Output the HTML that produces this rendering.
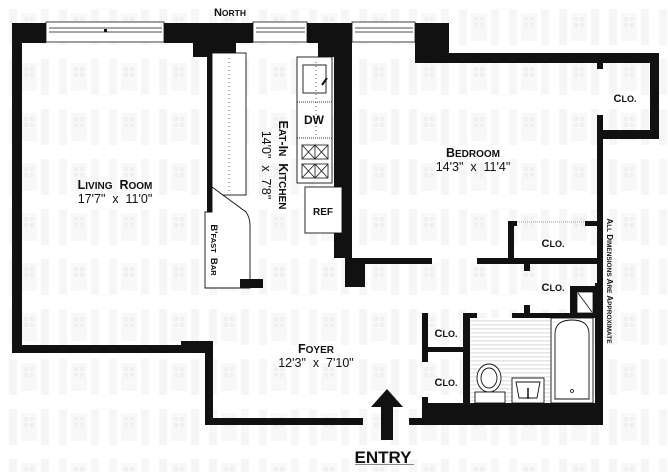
<!DOCTYPE html>
<html><head><meta charset="utf-8"><style>
html,body{margin:0;padding:0;background:#fff;}
svg{display:block;}
text{font-family:"Liberation Sans",Arial,sans-serif;fill:#111;white-space:pre;}
</style></head><body>
<svg width="668" height="472" viewBox="0 0 668 472" xmlns="http://www.w3.org/2000/svg">
<defs>
<pattern id="hatch" width="4" height="4" patternUnits="userSpaceOnUse"><rect width="4" height="4" fill="#fff"/><rect width="4" height="1.5" fill="#e6e6e6"/></pattern>
<pattern id="wm" x="5" y="5" width="50" height="50" patternUnits="userSpaceOnUse">
<rect x="4" y="4" width="8" height="36" fill="#f6f6f6"/>
<rect x="36" y="4" width="8" height="36" fill="#f6f6f6"/>
<rect x="16" y="8" width="16" height="28" fill="#f8f8f8"/>
<rect x="19" y="12" width="4" height="4" fill="#f0f0f0"/><rect x="25" y="12" width="4" height="4" fill="#f0f0f0"/>
<rect x="19" y="18" width="4" height="4" fill="#f0f0f0"/><rect x="25" y="18" width="4" height="4" fill="#f0f0f0"/>
</pattern>
</defs>
<rect width="668" height="472" fill="url(#wm)"/>
<g fill="#111">
<rect x="12" y="23" width="10" height="330"/>
<rect x="12" y="23" width="34" height="20"/>
<rect x="164" y="23" width="89" height="20"/>
<rect x="307" y="23" width="45" height="20"/>
<rect x="193" y="43" width="43" height="10"/>
<rect x="193" y="43" width="14" height="14"/>
<rect x="207" y="53" width="5" height="159"/>
<rect x="318" y="43" width="27" height="14"/>
<rect x="334" y="43" width="11" height="215"/>
<rect x="345" y="43" width="7" height="215"/>
<rect x="345" y="258" width="20" height="29"/>
<rect x="415" y="23" width="34" height="40"/>
<rect x="449" y="53" width="210" height="10"/>
<rect x="650" y="53" width="9" height="86"/>
<rect x="597" y="130" width="62" height="9"/>
<rect x="597" y="63" width="6" height="6"/>
<rect x="597" y="115" width="6" height="310"/>
<rect x="595" y="283" width="7" height="142"/>
<rect x="352" y="258" width="80" height="6"/>
<rect x="477" y="258" width="120" height="6"/>
<rect x="508" y="221" width="6" height="40"/>
<rect x="508" y="221" width="9" height="5"/>
<rect x="585" y="221" width="12" height="5"/>
<rect x="524" y="264" width="6" height="7"/>
<rect x="12" y="345" width="201" height="8"/>
<rect x="181" y="341" width="32" height="12"/>
<rect x="205" y="341" width="8" height="84"/>
<rect x="205" y="418" width="158" height="7"/>
<rect x="409" y="418" width="193" height="7"/>
<rect x="422" y="403" width="180" height="22"/>
<rect x="422" y="313" width="6" height="49"/>
<rect x="422" y="397" width="6" height="13"/>
<rect x="422" y="347" width="41" height="5"/>
<rect x="463" y="313" width="7" height="92"/>
<rect x="463" y="313" width="14" height="5"/>
<rect x="512" y="313" width="83" height="5"/>
<rect x="524" y="305" width="6" height="13"/>
<rect x="570" y="286" width="25" height="27"/>
</g>
<rect x="577" y="292" width="16" height="21" fill="#fff" stroke="#111" stroke-width="0.8"/>
<line x1="578" y1="293" x2="592" y2="312" stroke="#111" stroke-width="0.8"/>
<g fill="#fff" stroke="#111" stroke-width="0.8">
<rect x="46" y="22" width="118" height="20"/>
<rect x="253" y="22" width="54" height="20"/>
<rect x="352" y="22" width="63" height="20"/>
</g>
<g stroke="#111" stroke-width="0.8">
<line x1="49" y1="28" x2="162" y2="28"/><line x1="49" y1="32" x2="162" y2="32"/>
<line x1="256" y1="28" x2="305" y2="28"/><line x1="256" y1="32" x2="305" y2="32"/>
<line x1="355" y1="28" x2="413" y2="28"/><line x1="355" y1="32" x2="413" y2="32"/>
</g>
<rect x="104" y="29" width="3" height="3" fill="#111"/>
<g fill="#fff" stroke="#111" stroke-width="0.9">
<rect x="212" y="53" width="34" height="142"/>
<path d="M212 187 L246 212 Q250 218 250 225 L250 288 L205 288 L205 212 L212 212 Z"/>
<rect x="297" y="57" width="35" height="126"/>
<rect x="305" y="187" width="37" height="46"/>
<rect x="303" y="65" width="23" height="28"/>
</g>
<rect x="240" y="279" width="23" height="9" fill="#111"/>
<line x1="229" y1="58" x2="229" y2="193" stroke="#333" stroke-width="0.8" stroke-dasharray="1,3"/>
<line x1="316" y1="62" x2="316" y2="136" stroke="#333" stroke-width="0.8" stroke-dasharray="1,3"/>
<line x1="297" y1="102" x2="332" y2="102" stroke="#333" stroke-dasharray="1,1"/>
<line x1="297" y1="138" x2="332" y2="138" stroke="#333" stroke-dasharray="1,1"/>
<line x1="322" y1="85" x2="327" y2="78" stroke="#111" stroke-width="2"/>
<g fill="none" stroke="#111" stroke-width="0.8">
<rect x="302" y="145" width="26" height="14"/><line x1="315" y1="145" x2="315" y2="159"/>
<path d="M302 145 L315 159 M315 145 L302 159 M315 145 L328 159 M328 145 L315 159"/>
<rect x="302" y="164" width="26" height="14"/><line x1="315" y1="164" x2="315" y2="178"/>
<path d="M302 164 L315 178 M315 164 L302 178 M315 164 L328 178 M328 164 L315 178"/>
</g>
<line x1="517" y1="222" x2="585" y2="222" stroke="#777" stroke-width="0.8" stroke-dasharray="1,1"/>
<rect x="470" y="318" width="81" height="85" fill="url(#hatch)"/>
<g fill="#fff" stroke="#111" stroke-width="0.9">
<rect x="551" y="318" width="42" height="85"/>
<path d="M555 399 L555 334 Q555 320 572 320 Q589 320 589 334 L589 399 Z"/>
<ellipse cx="489" cy="378" rx="12" ry="14"/>
<ellipse cx="489" cy="378" rx="8" ry="10"/>
<rect x="475" y="392" width="30" height="11"/>
<rect x="512" y="378" width="32" height="25"/>
<path d="M516 382 L540 382 L537 398 L519 398 Z"/>
</g>
<line x1="528" y1="388" x2="528" y2="399" stroke="#111" stroke-width="1.5"/>
<circle cx="572" cy="391" r="1.5" fill="none" stroke="#111" stroke-width="0.8"/>
<path d="M387 389 L403 407 L393 407 L393 440 L381 440 L381 407 L371 407 Z" fill="#111"/>
<g font-weight="bold">
<text x="230" y="16" font-size="11" text-anchor="middle">N<tspan font-size="8.5">ORTH</tspan></text>
<text x="115" y="189" font-size="12.5" text-anchor="middle">L<tspan font-size="10">IVING</tspan>  R<tspan font-size="10">OOM</tspan></text>
<text x="473" y="157" font-size="12.5" text-anchor="middle">B<tspan font-size="10">EDROOM</tspan></text>
<text x="316" y="353" font-size="12.5" text-anchor="middle">F<tspan font-size="10">OYER</tspan></text>
<text x="625" y="102" font-size="11" text-anchor="middle">C<tspan font-size="9">LO.</tspan></text>
<text x="553" y="247" font-size="11" text-anchor="middle">C<tspan font-size="9">LO.</tspan></text>
<text x="553" y="291" font-size="11" text-anchor="middle">C<tspan font-size="9">LO.</tspan></text>
<text x="446" y="337" font-size="11" text-anchor="middle">C<tspan font-size="9">LO.</tspan></text>
<text x="446" y="386" font-size="11" text-anchor="middle">C<tspan font-size="9">LO.</tspan></text>
<text x="314" y="124" font-size="12" text-anchor="middle">DW</text>
<text x="323" y="215" font-size="10" text-anchor="middle">REF</text>
<text x="383" y="463" font-size="17" text-anchor="middle">ENTRY</text>
<text transform="translate(279,165) rotate(90)" font-size="12.5" text-anchor="middle">E<tspan font-size="10">AT</tspan>-I<tspan font-size="10">N</tspan>  K<tspan font-size="10">ITCHEN</tspan></text>
<text transform="translate(211,250) rotate(90)" font-size="9.5" text-anchor="middle">B'<tspan font-size="7.5">FAST</tspan>  B<tspan font-size="7.5">AR</tspan></text>
<text transform="translate(607,281) rotate(90)" font-size="8" text-anchor="middle">A<tspan font-size="6.5">LL</tspan> D<tspan font-size="6.5">IMENSIONS</tspan> A<tspan font-size="6.5">RE</tspan> A<tspan font-size="6.5">PPROXIMATE</tspan></text>
</g>
<line x1="355" y1="464.5" x2="414" y2="464.5" stroke="#888" stroke-width="1"/>
<g font-size="12.5">
<text x="115" y="203" text-anchor="middle">17'7"  x  11'0"</text>
<text x="473" y="171" text-anchor="middle">14'3"  x  11'4"</text>
<text x="316" y="367" text-anchor="middle">12'3"  x  7'10"</text>
<text transform="translate(262,165) rotate(90)" text-anchor="middle">14'0"  x  7'8"</text>
</g>
</svg>
</body></html>
